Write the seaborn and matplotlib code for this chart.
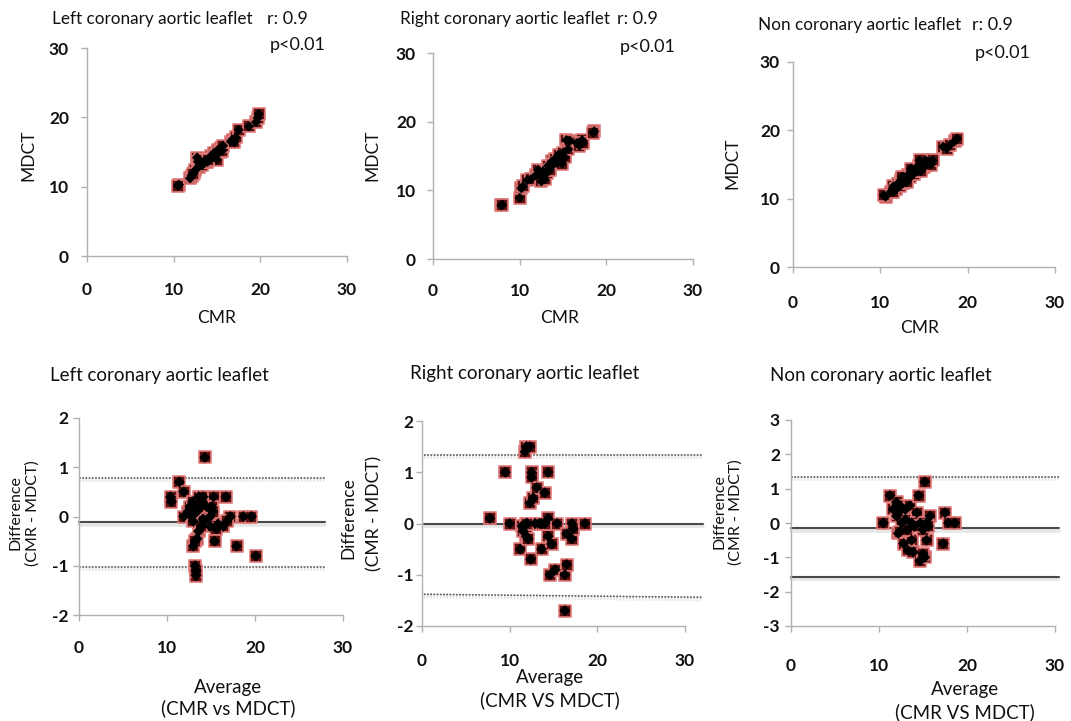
import matplotlib
matplotlib.use("Agg")
import matplotlib.pyplot as plt
import matplotlib.patheffects as pe
import seaborn as sns
import pandas as pd

W, H, DPI = 1071, 721, 100

# ---------------- data ----------------
leaflets = ["Left coronary aortic leaflet", "Right coronary aortic leaflet", "Non coronary aortic leaflet"]
r_text = "r: 0.9"
p_text = "p<0.01"

# Top row: CMR vs MDCT
lc_cmr = [10.6, 10.5, 11.9, 12.1, 12.3, 12.5, 12.7, 12.8, 12.9, 13.1, 13.3, 13.5, 13.7, 13.9, 14.1, 14.3, 14.5,
          14.7, 14.9, 15.0, 15.1, 15.3, 15.5, 15.6, 15.7, 16.6, 16.8, 17.0, 17.2, 17.5, 18.7, 19.5, 19.7, 19.8,
          13.0, 14.0, 12.2]
lc_mdct = [10.3, 10.1, 11.2, 11.6, 12.0, 12.4, 14.2, 13.6, 12.9, 13.4, 13.1, 13.5, 13.8, 13.6, 14.0, 14.4, 14.2,
           14.9, 14.6, 13.9, 15.3, 15.0, 15.6, 15.2, 15.9, 16.5, 16.8, 16.4, 17.1, 18.2, 18.7, 19.3, 19.9, 20.5,
           13.8, 13.9, 11.8]

rc_cmr = [7.9, 8.0, 10.0, 10.2, 10.4, 10.9, 11.3, 11.9, 12.1, 12.3, 12.5, 12.7, 12.9, 13.1, 13.3, 13.5, 13.7,
          13.9, 14.1, 14.3, 14.5, 14.7, 14.9, 15.0, 15.2, 15.4, 15.6, 15.8, 16.6, 16.9, 17.2, 17.3, 18.6, 18.5]
rc_mdct = [7.8, 7.9, 8.9, 10.3, 10.6, 11.5, 11.6, 12.2, 13.0, 12.2, 11.3, 12.8, 11.6, 12.5, 13.6, 13.0, 14.2,
           13.8, 14.6, 14.0, 15.2, 14.3, 13.9, 15.5, 14.8, 17.3, 16.0, 17.2, 16.9, 16.5, 17.3, 16.9, 18.6, 18.4]

nc_cmr = [10.6, 10.4, 11.2, 11.5, 11.8, 12.0, 12.2, 12.4, 12.6, 12.8, 13.0, 13.2, 13.4, 13.6, 13.8, 14.0, 14.2,
          14.4, 14.6, 14.8, 15.0, 15.2, 15.4, 15.6, 15.8, 16.0, 12.5, 13.5, 14.5, 17.2, 17.6, 18.0, 18.5, 18.8,
          11.5, 13.0, 14.6]
nc_mdct = [10.3, 10.5, 11.0, 11.8, 11.4, 12.2, 11.8, 12.7, 12.3, 13.1, 12.7, 13.5, 13.1, 14.0, 13.6, 14.4, 14.0,
           14.8, 14.3, 15.2, 14.6, 15.6, 15.0, 15.4, 15.0, 15.6, 13.2, 14.4, 15.6, 17.6, 17.3, 17.9, 18.4, 18.8,
           11.0, 12.4, 14.0]

# Bottom row: Bland-Altman (average, difference)
lc_avg = [10.4, 10.5, 11.4, 11.9, 14.3, 11.9, 12.4, 12.6, 12.9, 13.2, 13.6, 14.1, 15.3, 16.7, 12.8, 13.0, 13.4,
          13.8, 14.1, 14.5, 14.9, 15.1, 15.2, 17.2, 18.7, 19.6, 15.8, 16.4, 16.8, 13.6, 13.4, 14.9, 15.6, 14.2,
          15.4, 17.9, 20.1, 13.0, 13.2, 13.2, 13.3, 13.3, 14.0, 13.9]
lc_diff = [0.4, 0.3, 0.7, 0.5, 1.2, 0.0, 0.1, 0.2, 0.3, 0.2, 0.4, 0.4, 0.4, 0.4, 0.0, -0.1, 0.1,
           0.2, -0.05, 0.2, 0.0, 0.2, 0.1, 0.0, 0.0, 0.0, -0.15, -0.2, -0.1, -0.3, -0.45, -0.2, -0.25, -0.1,
           -0.5, -0.6, -0.8, -0.6, -0.5, -1.0, -1.2, -1.1, 0.3, -0.2]

rc_avg = [7.75, 9.5, 10.0, 11.2, 11.4, 11.55, 11.75, 11.9, 12.3, 11.9, 11.9, 12.1, 12.3, 12.4, 12.5, 12.5, 12.7,
          12.9, 13.1, 13.4, 13.65, 13.65, 14.0, 14.4, 14.4, 14.4, 14.8, 14.6, 15.2, 15.4, 16.3, 16.5, 16.5, 17.1,
          17.1, 17.25, 18.6, 16.3, 14.0, 12.0]
rc_diff = [0.1, 1.0, 0.0, -0.5, -0.05, -0.15, 1.4, 1.5, 1.5, 0.0, -0.25, -0.3, 0.4, -0.7, 1.0, 0.9, 0.5,
           0.0, 0.7, 0.0, 0.0, -0.5, 0.6, 1.0, 0.1, -0.25, -0.4, -1.0, -0.9, 0.0, -1.0, -0.8, -0.2, 0.0,
           -0.3, -0.1, 0.0, -1.7, 0.0, 0.0]

nc_avg = [10.5, 11.25, 11.6, 12.0, 12.0, 12.4, 12.2, 13.0, 13.5, 14.3, 14.5, 15.2, 14.7, 13.7, 13.0, 12.6, 15.8,
          15.4, 17.5, 17.9, 18.6, 17.3, 12.2, 12.4, 12.8, 13.7, 13.3, 13.9, 14.65, 15.2, 15.0, 15.4, 15.0, 14.0,
          15.6, 13.2]
nc_diff = [0.0, 0.8, 0.4, 0.6, 0.2, 0.5, 0.3, 0.4, 0.5, 0.3, 0.8, 1.2, 0.0, 0.0, 0.1, 0.0, 0.2,
           0.0, 0.3, 0.0, 0.0, -0.6, -0.3, -0.25, -0.6, -0.5, -0.8, -0.85, -1.1, -1.0, -0.9, -0.5, -0.2, -0.1,
           -0.1, -0.2]

# Bland-Altman reference lines: (x_start, x_end, y_start, y_end, style)
lc_lines = [(0, 28.0, 0.78, 0.78, "dot"), (0, 28.0, -0.12, -0.12, "solid"), (0, 28.0, -1.03, -1.03, "dot")]
rc_lines = [(0.2, 32.0, 1.34, 1.34, "dot"), (0.2, 32.0, 0.0, 0.0, "solid"), (0.2, 32.0, -1.38, -1.44, "dot")]
nc_lines = [(0, 30.5, 1.34, 1.34, "dot"), (0, 30.5, -0.16, -0.16, "solid"), (0, 30.5, -1.56, -1.56, "solid")]

x_ticks = [0, 10, 20, 30]
top_y_ticks = [0, 10, 20, 30]
ba_y_ticks_2 = [-2, -1, 0, 1, 2]
ba_y_ticks_3 = [-3, -2, -1, 0, 1, 2, 3]

# ---------------- styling ----------------
sns.set_theme(style="white")
plt.rcParams['font.family'] = ['Lato', 'DejaVu Sans']

AXC = "#b0b0b0"
TXT = "#111111"

fig = plt.figure(figsize=(W / DPI, H / DPI), dpi=DPI)
fig.patch.set_facecolor("white")


def add_ax(l, r, t, b):
    return fig.add_axes([l / W, 1 - b / H, (r - l) / W, (b - t) / H])


def ftext(x, y, s, **kw):
    kw.setdefault("color", TXT)
    fig.text(x / W, 1 - y / H, s, **kw)


def style(ax, xlim, ylim, yticks, xpad, ypad):
    ax.set_xlim(*xlim)
    ax.set_ylim(*ylim)
    ax.set_xticks(x_ticks)
    ax.set_xticklabels([str(v) for v in x_ticks], fontweight="bold")
    ax.set_yticks(yticks)
    ax.set_yticklabels([str(v) for v in yticks], fontweight="bold")
    for s in ["top", "right"]:
        ax.spines[s].set_visible(False)
    for s in ["left", "bottom"]:
        ax.spines[s].set_color(AXC)
        ax.spines[s].set_linewidth(1.0)
    ax.tick_params(axis="both", bottom=True, left=True, colors=AXC, length=4, width=1,
                   direction="out", labelcolor=TXT, labelsize=12.5)
    ax.tick_params(axis="x", pad=xpad)
    ax.tick_params(axis="y", pad=ypad)
    ax.set_xlabel("")
    ax.set_ylabel("")
    ax.set_facecolor("white")


def scatter(ax, x, y, s_sq):
    df = pd.DataFrame({"x": x, "y": y})
    sns.scatterplot(data=df, x="x", y="y", ax=ax, marker="s", s=s_sq, color="#5a1212",
                    edgecolor="#e27a7a", linewidth=1.2, legend=False, zorder=3, clip_on=False)
    sns.scatterplot(data=df, x="x", y="y", ax=ax, marker="D", s=s_sq * 0.42, color="black",
                    edgecolor="none", linewidth=0, legend=False, zorder=4, clip_on=False)


def ba_lines(ax, lines):
    for x0, x1, y0, y1, st in lines:
        df = pd.DataFrame({"x": [x0, x1], "y": [y0, y1]})
        if st == "dot":
            kw = dict(color="#555555", linewidth=1.1, linestyle=(0, (1.2, 0.9)))
        else:
            kw = dict(color="#4a4a4a", linewidth=1.5, linestyle="-")
        sns.lineplot(data=df, x="x", y="y", ax=ax, legend=False, zorder=2, **kw)
        ln = ax.get_lines()[-1]
        ln.set_clip_on(False)
        ln.set_path_effects([pe.SimpleLineShadow(offset=(0, -1.6), shadow_color="#c8c8c8", alpha=0.45,
                                                 linewidth=2.6), pe.Normal()])


# ---------------- top row ----------------
top_axes_px = [(87, 347, 48, 256), (433, 693, 53, 259), (793, 1055, 62, 267)]
top_data = [(lc_cmr, lc_mdct), (rc_cmr, rc_mdct), (nc_cmr, nc_mdct)]
top_pads = [(15, 9.0), (13, 8.3), (15.8, 5.4)]
for (l, r, t, b), (xs, ys), (xp, yp) in zip(top_axes_px, top_data, top_pads):
    ax = add_ax(l, r, t, b)
    scatter(ax, xs, ys, 64)
    style(ax, (0, 30), (0, 30), top_y_ticks, xp, yp)

# top texts
title_pos = [(52, 19), (400, 19), (758, 25)]
r_pos = [(267, 19), (617, 19), (972, 25)]
p_pos = [(270, 45), (620, 47), (975, 53)]
mdct_pos = [(28, 155), (372, 155), (732, 163)]
cmr_pos = [(217, 318), (560, 318), (920, 328)]
for i in range(3):
    ftext(*title_pos[i], leaflets[i], fontsize=12.3, ha="left", va="center")
    ftext(*r_pos[i], r_text, fontsize=13, ha="left", va="center")
    ftext(*p_pos[i], p_text, fontsize=13, ha="left", va="center")
    ftext(*mdct_pos[i], "MDCT", fontsize=12.5, ha="center", va="center", rotation=90)
    ftext(*cmr_pos[i], "CMR", fontsize=12.5, ha="center", va="center")

# ---------------- bottom row ----------------
bot_axes_px = [(79, 343, 418, 615), (422, 685, 421, 626), (791, 1055, 420, 626)]
bot_data = [(lc_avg, lc_diff, lc_lines, (-2, 2), ba_y_ticks_2),
            (rc_avg, rc_diff, rc_lines, (-2, 2), ba_y_ticks_2),
            (nc_avg, nc_diff, nc_lines, (-3, 3), ba_y_ticks_3)]
bot_pads = [(13.7, 3.4), (15.8, 2.0), (18.7, 4.0)]
for (l, r, t, b), (xs, ys, lines, ylim, yt), (xp, yp) in zip(bot_axes_px, bot_data, bot_pads):
    ax = add_ax(l, r, t, b)
    ba_lines(ax, lines)
    scatter(ax, xs, ys, 76)
    style(ax, (0, 30), ylim, yt, xp, yp)

btitle_pos = [(50, 375), (410, 373), (770, 375)]
avg_pos = [(228, 687), (550, 678), (965, 690)]
vs_pos = [(228, 708), (550, 700), (965, 712)]
vs_text = ["(CMR vs MDCT)", "(CMR VS MDCT)", "(CMR VS MDCT)"]
for i in range(3):
    ftext(*btitle_pos[i], leaflets[i], fontsize=13.5, ha="left", va="center")
    ftext(*avg_pos[i], "Average", fontsize=13.5, ha="center", va="center")
    ftext(*vs_pos[i], vs_text[i], fontsize=13.5, ha="center", va="center")

# y labels of the Bland-Altman panels
ftext(24, 513, "Difference\n(CMR - MDCT)", fontsize=11.5, ha="center", va="center",
      rotation=90, multialignment="center", linespacing=1.3)
ftext(348, 518, "Difference", fontsize=12.5, ha="center", va="center", rotation=90)
ftext(374, 513, "(CMR - MDCT)", fontsize=12.5, ha="center", va="center", rotation=90)
ftext(728, 512, "Difference\n(CMR - MDCT)", fontsize=11.5, ha="center", va="center",
      rotation=90, multialignment="center", linespacing=1.15)

fig.savefig("out.png", dpi=DPI, facecolor="white")
